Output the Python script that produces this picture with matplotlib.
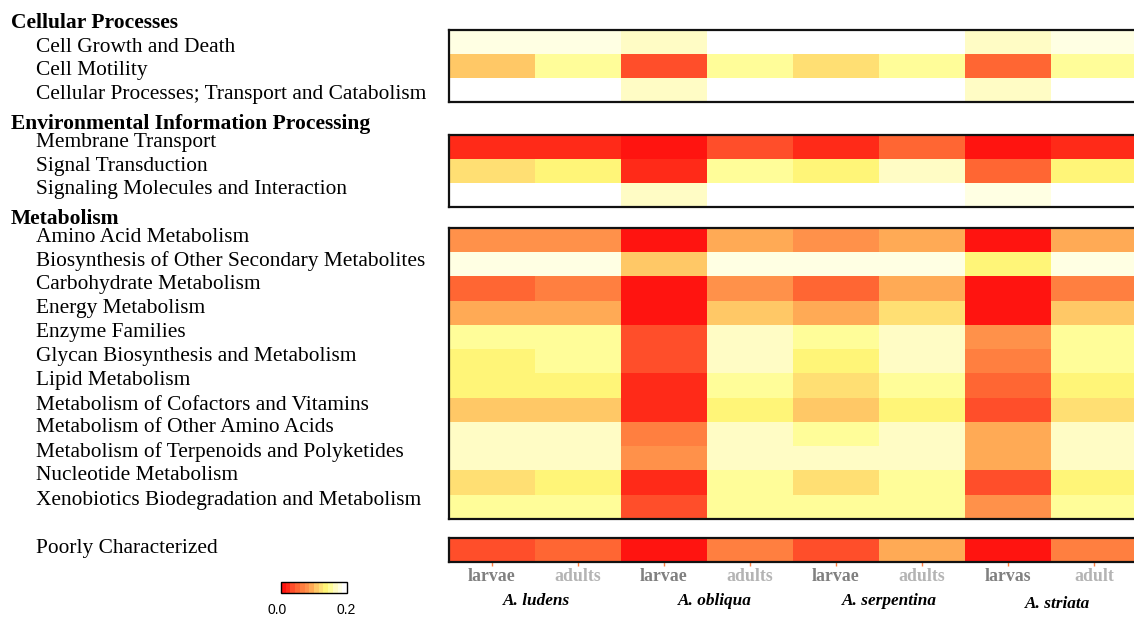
import numpy as np
import matplotlib
matplotlib.use('Agg')
import matplotlib.pyplot as plt
from matplotlib.colors import ListedColormap, BoundaryNorm
from matplotlib.cm import ScalarMappable

# columns: larvae/adults for each species
stages = ['larvae', 'adults', 'larvae', 'adults', 'larvae', 'adults', 'larvas', 'adult']
stage_colors = ['#808080', '#b4b4b4'] * 4
species = ['A. ludens', 'A. obliqua', 'A. serpentina', 'A. striata']

cellular_labels = ['Cell Growth and Death', 'Cell Motility',
                   'Cellular Processes; Transport and Catabolism']
cellular = [
    [0.179, 0.179, 0.164, 0.193, 0.193, 0.193, 0.164, 0.179],
    [0.107, 0.150, 0.036, 0.150, 0.121, 0.150, 0.050, 0.150],
    [0.193, 0.193, 0.164, 0.193, 0.193, 0.193, 0.164, 0.193],
]

environmental_labels = ['Membrane Transport', 'Signal Transduction',
                        'Signaling Molecules and Interaction']
environmental = [
    [0.021, 0.021, 0.007, 0.036, 0.021, 0.050, 0.007, 0.021],
    [0.121, 0.136, 0.021, 0.150, 0.136, 0.164, 0.050, 0.136],
    [0.193, 0.193, 0.164, 0.193, 0.193, 0.193, 0.179, 0.193],
]

metabolism_labels = ['Amino Acid Metabolism',
                     'Biosynthesis of Other Secondary Metabolites',
                     'Carbohydrate Metabolism', 'Energy Metabolism',
                     'Enzyme Families', 'Glycan Biosynthesis and Metabolism',
                     'Lipid Metabolism', 'Metabolism of Cofactors and Vitamins',
                     'Metabolism of Other Amino Acids',
                     'Metabolism of Terpenoids and Polyketides',
                     'Nucleotide Metabolism',
                     'Xenobiotics Biodegradation and Metabolism']
metabolism = [
    [0.079, 0.079, 0.007, 0.093, 0.079, 0.093, 0.007, 0.093],
    [0.179, 0.179, 0.107, 0.179, 0.179, 0.179, 0.136, 0.179],
    [0.050, 0.064, 0.007, 0.079, 0.050, 0.093, 0.007, 0.064],
    [0.093, 0.093, 0.007, 0.107, 0.093, 0.121, 0.007, 0.107],
    [0.150, 0.150, 0.036, 0.164, 0.150, 0.164, 0.079, 0.150],
    [0.136, 0.150, 0.036, 0.164, 0.136, 0.164, 0.064, 0.150],
    [0.136, 0.136, 0.021, 0.150, 0.121, 0.150, 0.050, 0.136],
    [0.107, 0.107, 0.021, 0.136, 0.107, 0.136, 0.036, 0.121],
    [0.164, 0.164, 0.064, 0.164, 0.150, 0.164, 0.093, 0.164],
    [0.164, 0.164, 0.079, 0.164, 0.164, 0.164, 0.093, 0.164],
    [0.121, 0.136, 0.021, 0.150, 0.121, 0.150, 0.036, 0.136],
    [0.150, 0.150, 0.036, 0.150, 0.150, 0.150, 0.079, 0.150],
]

poorly_labels = ['Poorly Characterized']
poorly = [
    [0.036, 0.050, 0.007, 0.064, 0.036, 0.093, 0.007, 0.064],
]

palette = ['#ff1410', '#ff2a18', '#ff4e2a', '#ff6633', '#ff7f40', '#ff914a',
           '#ffaa55', '#ffc866', '#ffdf73', '#fff578', '#fffd99', '#fffcc5',
           '#ffffe3', '#ffffff']
cmap = ListedColormap(palette)
norm = BoundaryNorm(np.linspace(0, 0.2, len(palette) + 1), cmap.N)

W, H = 1134, 620
fig = plt.figure(figsize=(W / 100, H / 100), dpi=100)


def px_axes(x0, y0, x1, y1):
    return fig.add_axes([x0 / W, 1 - y1 / H, (x1 - x0) / W, (y1 - y0) / H])


def ftext(x, y, s, **kw):
    fig.text(x / W, 1 - y / H, s, **kw)


serif = 'Liberation Serif'

# (header, header y, labels, label y's, data, panel top, panel bottom)
groups = [
    ('Cellular Processes', 20, cellular_labels, [44, 68, 91], cellular, 30, 102),
    ('Environmental Information Processing', 121, environmental_labels,
     [139, 163, 187], environmental, 135, 207),
    ('Metabolism', 216, metabolism_labels,
     [234, 258, 282, 306, 330, 354, 378, 402, 425, 449, 473, 497], metabolism, 228, 519),
    (None, None, poorly_labels, [545], poorly, 538, 562),
]

for header, hy, labels, ly, data, top, bot in groups:
    ax = px_axes(449, top, 1137, bot)
    ax.imshow(np.array(data), cmap=cmap, norm=norm, aspect='auto',
              interpolation='nearest')
    ax.set_yticks([])
    ax.set_xticks([])
    for s in ax.spines.values():
        s.set_linewidth(1.6)
        s.set_color('#111111')
    if header:
        ftext(11, hy + 3, header, family=serif, fontsize=15.5, fontweight='bold',
              va='center', ha='left')
    for lab, y in zip(labels, ly):
        ftext(36, y + 3, lab, family=serif, fontsize=15.4, va='center', ha='left')

# stage labels under the last panel
ax.set_xticks(range(len(stages)))
ax.set_xticklabels(stages, family=serif, fontsize=12.8, fontweight='bold')
for t, c in zip(ax.get_xticklabels(), stage_colors):
    t.set_color(c)
ax.tick_params(axis='x', length=3, width=1, color='#ff7f40', pad=1)

for name, x, y in zip(species, [537, 715, 889, 1058], [601, 601, 601, 604]):
    ftext(x, y, name, family=serif, fontsize=12.4, fontweight='bold',
          style='italic', ha='center', va='center')

# colour key
cax = px_axes(281, 582, 347, 593)
cb = fig.colorbar(ScalarMappable(norm=norm, cmap=cmap), cax=cax,
                  orientation='horizontal')
cb.outline.set_linewidth(1)
cb.set_ticks([])
cb.minorticks_off()
cax.tick_params(which='both', length=0)
ftext(277, 610, '0.0', family='Liberation Sans', fontsize=10, ha='center', va='center')
ftext(346, 610, '0.2', family='Liberation Sans', fontsize=10, ha='center', va='center')

fig.savefig('out.png', dpi=100)
